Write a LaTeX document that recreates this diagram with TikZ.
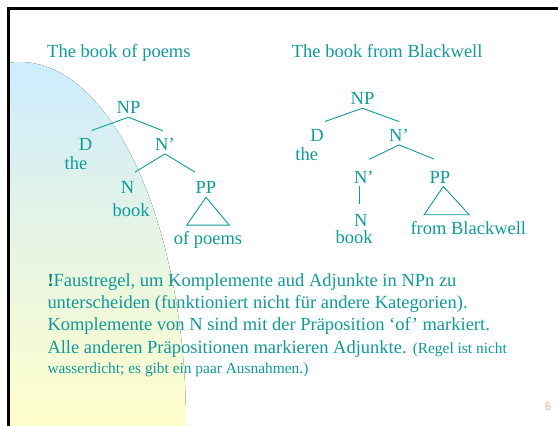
\documentclass[tikz,border=0pt]{standalone}
\usepackage{fontspec}
\setmainfont{Liberation Serif}
\newfontfamily\pagefont{Liberation Sans}
\usepackage{xcolor}
\usepackage{tikz}
\usetikzlibrary{calc}
\definecolor{slideteal}{RGB}{16,154,154}
\definecolor{bangteal}{RGB}{0,128,110}
\definecolor{pagenum}{RGB}{255,170,128}
\definecolor{shadeblue}{RGB}{204,236,255}
\definecolor{shadegreen}{RGB}{230,244,228}
\definecolor{shadeyellow}{RGB}{255,255,204}
\def\bodysize{\fontsize{18.5}{22}\selectfont}
\def\notesize{\fontsize{15.4}{18}\selectfont}

\begin{document}
\begin{tikzpicture}[x=1pt,y=1pt,
        lbl/.style={anchor=base,inner sep=3pt,text depth=0pt,font=\bodysize,text=slideteal},
        txt/.style={anchor=base west,inner sep=0pt,font=\bodysize,text=slideteal},
        branch/.style={draw=slideteal,line width=0.9pt}]
        \useasboundingbox (0,0) rectangle (558,426);

        %%% BACKGROUND %%%
        \fill[top color=shadeblue,bottom color=shadeyellow,middle color=shadegreen] (9,0) -- (186,0) -- (186,1) arc[start angle=0,end angle=93.8,x radius=166,y radius=363] -- cycle;
        \draw[line width=2.5pt] (8.5,0) -- (8.5,417.5) -- (558,417.5);

        %%% TITLES %%%
        \node[txt] (title1) at (47,368) {The book of poems};
        \node[txt] (title2) at (291.7,368) {The book from Blackwell};

        %%% LEFT TREE %%%
        \node[lbl] (np1) at (128.5,312) {NP};
        \node[lbl] (d1) at (85.5,275.3) {D};
        \node[lbl] (the1) at (76,256) {the};
        \node[lbl] (nbar1) at (165,275.3) {N’};
        \node[lbl] (n1) at (127.5,232) {N};
        \node[lbl] (book1) at (131,209.3) {book};
        \node[lbl] (pp1) at (206,232) {PP};
        \node[lbl] (poems) at (208,181) {of poems};
        \draw[branch] (np1.south) -- ($(d1.north)+(6.2,4.9)$);
        \draw[branch] (np1.south) -- ($(nbar1.north)+(-2.3,4.5)$);
        \draw[branch] (nbar1.south) -- ($(n1.north)+(7.5,6.6)$);
        \draw[branch] (nbar1.south) -- ($(pp1.north)+(-11,6.6)$);
        \draw[branch] (pp1.south) -- ++(-19.3,-28) -- ++(42.6,0) -- cycle;

        %%% RIGHT TREE %%%
        \node[lbl] (np2) at (362.5,321) {NP};
        \node[lbl] (d2) at (317,284.3) {D};
        \node[lbl] (the2) at (306.7,265) {the};
        \node[lbl] (nbar2) at (399,284.3) {N’};
        \node[lbl] (nbar3) at (363.8,242.7) {N’};
        \node[lbl] (n2) at (360.7,199.3) {N};
        \node[lbl] (book2) at (354,182) {book};
        \node[lbl] (pp2) at (440,242.7) {PP};
        \node[lbl] (blackwell) at (468.3,191) {from Blackwell};
        \draw[branch] (np2.south) -- ($(d2.north)+(8,4.9)$);
        \draw[branch] (np2.south) -- ($(nbar2.north)+(0.3,4.5)$);
        \draw[branch] (nbar2.south) -- ($(nbar3.north)+(5.5,8.5)$);
        \draw[branch] (nbar2.south) -- ($(pp2.north)+(-6,8.9)$);
        \draw[branch] ($(nbar3.south)+(-4.5,0)$) -- ($(n2.north)+(-1.4,7.6)$);
        \draw[branch] ($(pp2.south)+(3.3,0)$) -- ++(-19.3,-28.3) -- ++(45.3,0) -- cycle;

        %%% RULE OF THUMB %%%
        \node[txt] (rule1) at (47.3,139.3) {\textbf{\color{bangteal}!}Faustregel, um Komplemente aud Adjunkte in NPn zu};
        \node[txt] (rule2) at (47.3,117.7) {unterscheiden (funktioniert nicht für andere Kategorien).};
        \node[txt] (rule3) at (47.3,95) {Komplemente von N sind mit der Präposition ‘of’ markiert.};
        \node[txt] (rule4) at (47.3,72.7) {Alle anderen Präpositionen markieren Adjunkte. {\notesize(Regel ist nicht}};
        \node[txt,font=\notesize] (rule5) at (47.3,52.7) {wasserdicht; es gibt ein paar Ausnahmen.)};

        \node[anchor=base,font=\pagefont\fontsize{11.5}{12}\selectfont,text=pagenum] (page) at (548,15) {6};
    \end{tikzpicture}
\end{document}
